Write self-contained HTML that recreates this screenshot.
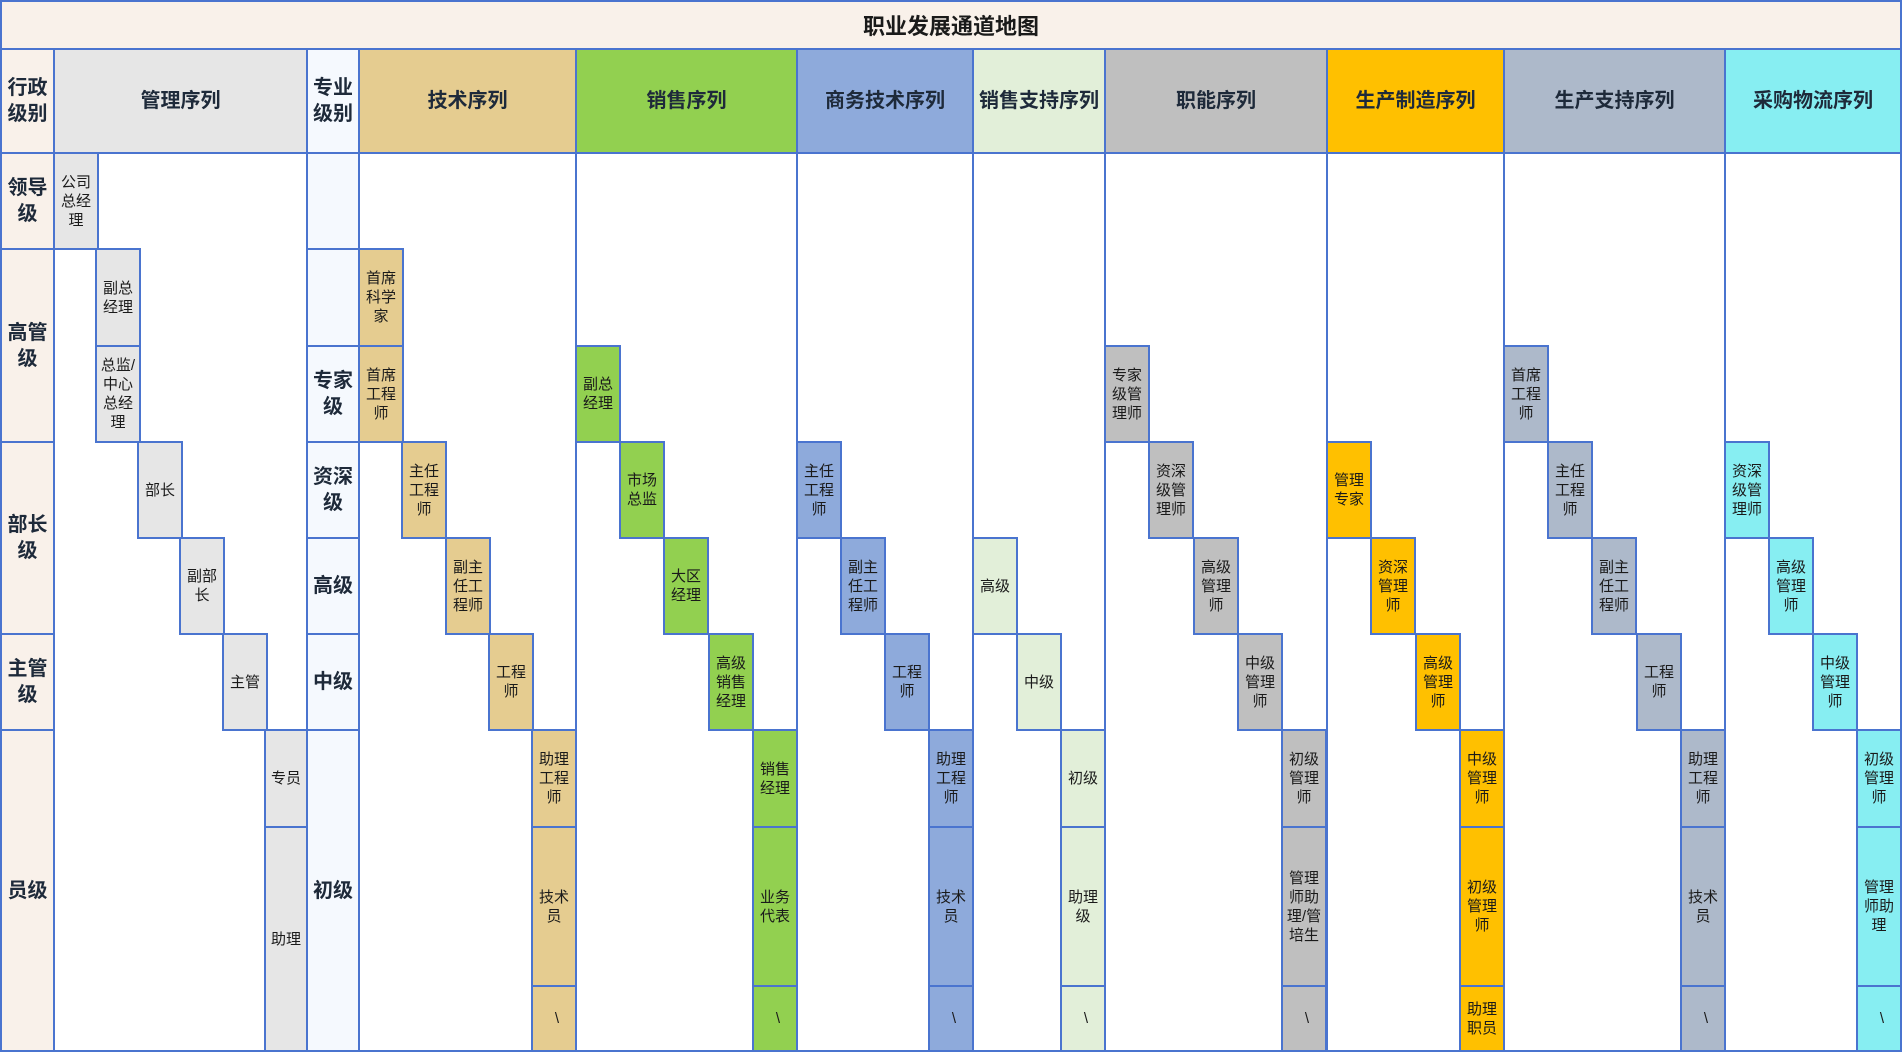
<!DOCTYPE html>
<html><head><meta charset="utf-8"><style>
body{margin:0;width:1902px;height:1052px;background:#fff;position:relative;overflow:hidden;font-family:"Liberation Sans","Noto Sans CJK SC",sans-serif;color:#1a1a1a}
div{position:absolute;box-sizing:border-box}
.c{border:2px solid #4a74cf;display:flex;align-items:center;justify-content:center;text-align:center}
.h{font-weight:bold;font-size:20px;color:#1e2a3a;line-height:26px}
.b{width:46px;font-size:15px;line-height:19px}
.k{padding-left:6px}
.g{background:#e6e6e6}.t{background:#e5cc90}.s{background:#92d050}.w{background:#8eaadb}.v{background:#e2efd9}.f{background:#bfbfbf}.m{background:#ffc000}.p{background:#adb9ca}.q{background:#87eef2}.a{background:#f9f1ea}.z{background:#f5f9fe}
</style></head><body>
<div class="c a" style="left:0;top:0;width:1902px;height:50px;font-weight:bold;font-size:22px">职业发展通道地图</div>
<div class="c a" style="left:0;top:48px;width:55px;height:1004px"></div>
<div class="c" style="left:53px;top:48px;width:255px;height:1004px"></div>
<div class="c z" style="left:306px;top:48px;width:54px;height:1004px"></div>
<div class="c" style="left:358px;top:48px;width:219px;height:1004px"></div>
<div class="c" style="left:575px;top:48px;width:223px;height:1004px"></div>
<div class="c" style="left:796px;top:48px;width:178px;height:1004px"></div>
<div class="c" style="left:972px;top:48px;width:134px;height:1004px"></div>
<div class="c" style="left:1104px;top:48px;width:224px;height:1004px"></div>
<div class="c" style="left:1326px;top:48px;width:179px;height:1004px"></div>
<div class="c" style="left:1503px;top:48px;width:223px;height:1004px"></div>
<div class="c" style="left:1724px;top:48px;width:178px;height:1004px"></div>
<div class="c a h" style="left:0;top:48px;width:55px;height:106px">行政<br>级别</div>
<div class="c g h" style="left:53px;top:48px;width:255px;height:106px">管理序列</div>
<div class="c z h" style="left:306px;top:48px;width:54px;height:106px">专业<br>级别</div>
<div class="c t h" style="left:358px;top:48px;width:219px;height:106px">技术序列</div>
<div class="c s h" style="left:575px;top:48px;width:223px;height:106px">销售序列</div>
<div class="c w h" style="left:796px;top:48px;width:178px;height:106px">商务技术序列</div>
<div class="c v h" style="left:972px;top:48px;width:134px;height:106px">销售支持序列</div>
<div class="c f h" style="left:1104px;top:48px;width:224px;height:106px">职能序列</div>
<div class="c m h" style="left:1326px;top:48px;width:179px;height:106px">生产制造序列</div>
<div class="c p h" style="left:1503px;top:48px;width:223px;height:106px">生产支持序列</div>
<div class="c q h" style="left:1724px;top:48px;width:178px;height:106px">采购物流序列</div>
<div class="c a h" style="left:0;top:152px;width:55px;height:98px">领导<br>级</div>
<div class="c a h" style="left:0;top:248px;width:55px;height:195px">高管<br>级</div>
<div class="c a h" style="left:0;top:441px;width:55px;height:194px">部长<br>级</div>
<div class="c a h" style="left:0;top:633px;width:55px;height:98px">主管<br>级</div>
<div class="c a h" style="left:0;top:729px;width:55px;height:323px">员级</div>
<div class="c z h" style="left:306px;top:152px;width:54px;height:98px"></div>
<div class="c z h" style="left:306px;top:248px;width:54px;height:99px"></div>
<div class="c z h" style="left:306px;top:345px;width:54px;height:98px">专家<br>级</div>
<div class="c z h" style="left:306px;top:441px;width:54px;height:98px">资深<br>级</div>
<div class="c z h" style="left:306px;top:537px;width:54px;height:98px">高级</div>
<div class="c z h" style="left:306px;top:633px;width:54px;height:98px">中级</div>
<div class="c z h" style="left:306px;top:729px;width:54px;height:323px">初级</div>
<div class="c b g" style="left:53px;top:152px;height:98px">公司<br>总经<br>理</div>
<div class="c b g" style="left:95px;top:248px;height:99px">副总<br>经理</div>
<div class="c b g" style="left:95px;top:345px;height:98px">总监/<br>中心<br>总经<br>理</div>
<div class="c b g" style="left:137px;top:441px;height:98px">部长</div>
<div class="c b g" style="left:179px;top:537px;height:98px">副部<br>长</div>
<div class="c b g" style="left:222px;top:633px;height:98px">主管</div>
<div class="c b g" style="left:264px;top:729px;width:44px;height:99px">专员</div>
<div class="c b g" style="left:264px;top:826px;width:44px;height:226px">助理</div>
<div class="c b t" style="left:358px;top:248px;height:99px">首席<br>科学<br>家</div>
<div class="c b t" style="left:358px;top:345px;height:98px">首席<br>工程<br>师</div>
<div class="c b t" style="left:401px;top:441px;height:98px">主任<br>工程<br>师</div>
<div class="c b t" style="left:445px;top:537px;height:98px">副主<br>任工<br>程师</div>
<div class="c b t" style="left:488px;top:633px;height:98px">工程<br>师</div>
<div class="c b t" style="left:531px;top:729px;height:99px">助理<br>工程<br>师</div>
<div class="c b t" style="left:531px;top:826px;height:161px">技术<br>员</div>
<div class="c b t k" style="left:531px;top:985px;height:67px">\</div>
<div class="c b s" style="left:575px;top:345px;height:98px">副总<br>经理</div>
<div class="c b s" style="left:619px;top:441px;height:98px">市场<br>总监</div>
<div class="c b s" style="left:663px;top:537px;height:98px">大区<br>经理</div>
<div class="c b s" style="left:708px;top:633px;height:98px">高级<br>销售<br>经理</div>
<div class="c b s" style="left:752px;top:729px;height:99px">销售<br>经理</div>
<div class="c b s" style="left:752px;top:826px;height:161px">业务<br>代表</div>
<div class="c b s k" style="left:752px;top:985px;height:67px">\</div>
<div class="c b w" style="left:796px;top:441px;height:98px">主任<br>工程<br>师</div>
<div class="c b w" style="left:840px;top:537px;height:98px">副主<br>任工<br>程师</div>
<div class="c b w" style="left:884px;top:633px;height:98px">工程<br>师</div>
<div class="c b w" style="left:928px;top:729px;height:99px">助理<br>工程<br>师</div>
<div class="c b w" style="left:928px;top:826px;height:161px">技术<br>员</div>
<div class="c b w k" style="left:928px;top:985px;height:67px">\</div>
<div class="c b v" style="left:972px;top:537px;height:98px">高级</div>
<div class="c b v" style="left:1016px;top:633px;height:98px">中级</div>
<div class="c b v" style="left:1060px;top:729px;height:99px">初级</div>
<div class="c b v" style="left:1060px;top:826px;height:161px">助理<br>级</div>
<div class="c b v k" style="left:1060px;top:985px;height:67px">\</div>
<div class="c b f" style="left:1104px;top:345px;height:98px">专家<br>级管<br>理师</div>
<div class="c b f" style="left:1148px;top:441px;height:98px">资深<br>级管<br>理师</div>
<div class="c b f" style="left:1193px;top:537px;height:98px">高级<br>管理<br>师</div>
<div class="c b f" style="left:1237px;top:633px;height:98px">中级<br>管理<br>师</div>
<div class="c b f" style="left:1281px;top:729px;height:99px">初级<br>管理<br>师</div>
<div class="c b f" style="left:1281px;top:826px;height:161px">管理<br>师助<br>理/管<br>培生</div>
<div class="c b f k" style="left:1281px;top:985px;height:67px">\</div>
<div class="c b m" style="left:1326px;top:441px;height:98px">管理<br>专家</div>
<div class="c b m" style="left:1370px;top:537px;height:98px">资深<br>管理<br>师</div>
<div class="c b m" style="left:1415px;top:633px;height:98px">高级<br>管理<br>师</div>
<div class="c b m" style="left:1459px;top:729px;height:99px">中级<br>管理<br>师</div>
<div class="c b m" style="left:1459px;top:826px;height:161px">初级<br>管理<br>师</div>
<div class="c b m" style="left:1459px;top:985px;height:67px">助理<br>职员</div>
<div class="c b p" style="left:1503px;top:345px;height:98px">首席<br>工程<br>师</div>
<div class="c b p" style="left:1547px;top:441px;height:98px">主任<br>工程<br>师</div>
<div class="c b p" style="left:1591px;top:537px;height:98px">副主<br>任工<br>程师</div>
<div class="c b p" style="left:1636px;top:633px;height:98px">工程<br>师</div>
<div class="c b p" style="left:1680px;top:729px;height:99px">助理<br>工程<br>师</div>
<div class="c b p" style="left:1680px;top:826px;height:161px">技术<br>员</div>
<div class="c b p k" style="left:1680px;top:985px;height:67px">\</div>
<div class="c b q" style="left:1724px;top:441px;height:98px">资深<br>级管<br>理师</div>
<div class="c b q" style="left:1768px;top:537px;height:98px">高级<br>管理<br>师</div>
<div class="c b q" style="left:1812px;top:633px;height:98px">中级<br>管理<br>师</div>
<div class="c b q" style="left:1856px;top:729px;height:99px">初级<br>管理<br>师</div>
<div class="c b q" style="left:1856px;top:826px;height:161px">管理<br>师助<br>理</div>
<div class="c b q k" style="left:1856px;top:985px;height:67px">\</div>
</body></html>
